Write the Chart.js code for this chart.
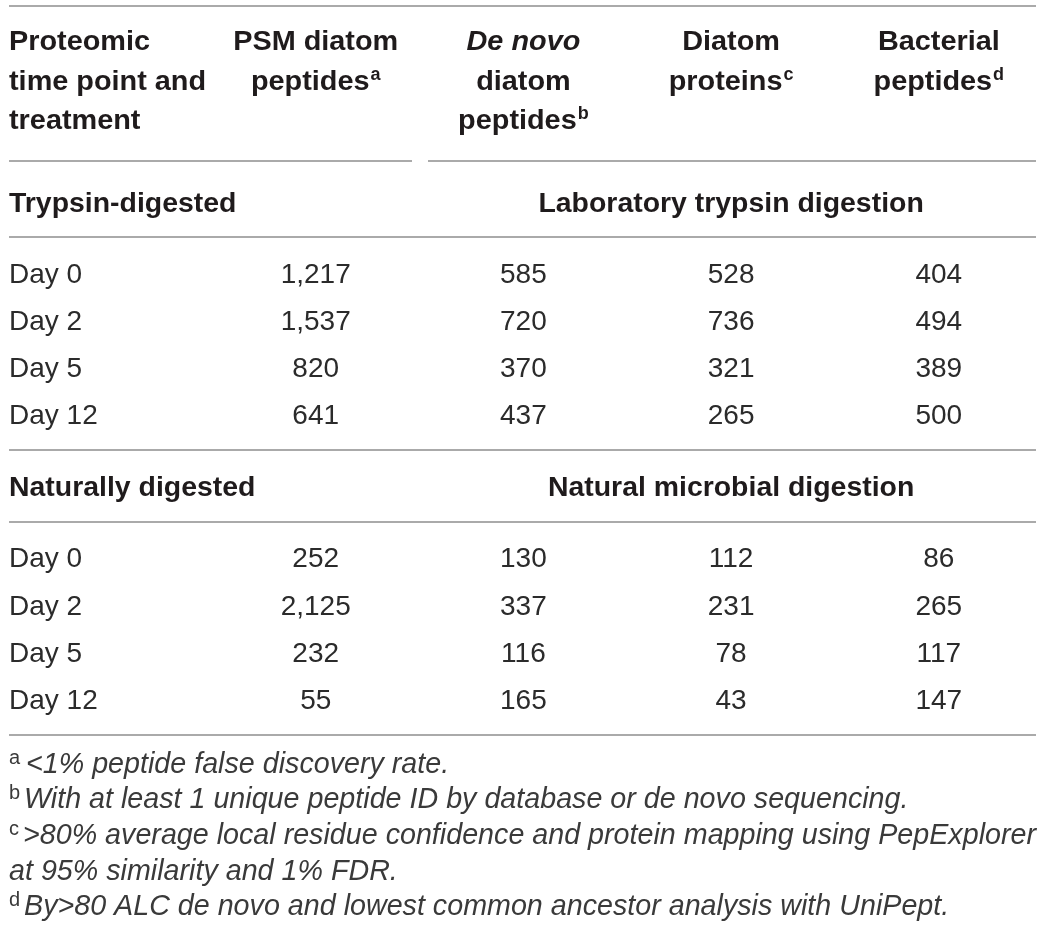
<!DOCTYPE html>
<html>
<head>
<meta charset="utf-8">
<script src="https://cdn.jsdelivr.net/npm/chart.js@4.4.1/dist/chart.umd.min.js"></script>
<style>
  html, body { margin: 0; padding: 0; background: #fff; }
  canvas { display: block; }
</style>
</head>
<body>
<canvas id="tbl" width="1044" height="934"></canvas>
<script>
// ---- table content ----
var timePoints = ['Day 0', 'Day 2', 'Day 5', 'Day 12'];
var trypsinPSM = [1217, 1537, 820, 641];
var trypsinDeNovo = [585, 720, 370, 437];
var trypsinProteins = [528, 736, 321, 265];
var trypsinBacterial = [404, 494, 389, 500];
var naturalPSM = [252, 2125, 232, 55];
var naturalDeNovo = [130, 337, 116, 165];
var naturalProteins = [112, 231, 78, 43];
var naturalBacterial = [86, 265, 117, 147];
var sectionTitles = ['Trypsin-digested', 'Naturally digested'];
var sectionMethods = ['Laboratory trypsin digestion', 'Natural microbial digestion'];
// each header line: [text, superscript, italic]
var headerLines = [
  [['Proteomic'], ['time point and'], ['treatment']],
  [['PSM diatom'], ['peptides', 'a']],
  [['De novo', '', true], ['diatom'], ['peptides', 'b']],
  [['Diatom'], ['proteins', 'c']],
  [['Bacterial'], ['peptides', 'd']]
];
var footnotes = [
  ['a', '<1% peptide false discovery rate.'],
  ['b', 'With at least 1 unique peptide ID by database or de novo sequencing.'],
  ['c', '>80% average local residue confidence and protein mapping using PepExplorer'],
  ['', 'at 95% similarity and 1% FDR.'],
  ['d', 'By>80 ALC de novo and lowest common ancestor analysis with UniPept.']
];

// ---- layout (x in column units, y in page rows) ----
var COL0 = -0.4766, RULE_L = -0.4766, RULE_R = 4.468, GAP_L = 1.4637, GAP_R = 1.5407;
var TOP_RULE = 6, HEAD_Y = [50, 90, 129], HEAD_RULE = 161;
var sections = [
  { title: 212, rule: 237, rows: [283, 330, 377, 424], end: 450,
    cols: [trypsinPSM, trypsinDeNovo, trypsinProteins, trypsinBacterial] },
  { title: 496, rule: 522, rows: [567, 615, 662, 709], end: 735,
    cols: [naturalPSM, naturalDeNovo, naturalProteins, naturalBacterial] }
];
var FOOT_Y = [773, 808, 844, 880, 915];
var FOOT_X = [26, 24, 23, 9, 24];

var FACE = '"Liberation Sans", Arial, Helvetica, sans-serif';
var INK = '#1f1b1c';
var RULE = '#8e8e8e';

// cells as points, so the library places them on its scales
var cells = [];
sections.forEach(function(sec, s) {
  timePoints.forEach(function(tp, r) {
    cells.push({ x: COL0, y: sec.rows[r], text: tp, align: 'left' });
    sec.cols.forEach(function(vals, c) {
      cells.push({ x: c + 1, y: sec.rows[r], text: vals[r].toLocaleString('en-US'), align: 'center' });
    });
  });
});

function drawScaled(ctx, text, x, y, sx) {
  ctx.save();
  ctx.translate(x, y);
  ctx.scale(sx, 1);
  ctx.fillText(text, 0, 0);
  ctx.restore();
}

var tablePlugin = {
  id: 'tablePlugin',
  afterDraw: function(chart) {
    var ctx = chart.ctx, xs = chart.scales.x, ys = chart.scales.y;
    var px = function(v) { return xs.getPixelForValue(v); };
    var py = function(v) { return ys.getPixelForValue(v); };

    ctx.save();
    ctx.fillStyle = '#fff';
    ctx.fillRect(0, 0, chart.width, chart.height);

    // rules
    ctx.strokeStyle = RULE;
    ctx.lineWidth = 1.6;
    function hline(a, b, y) {
      ctx.beginPath();
      ctx.moveTo(px(a), py(y));
      ctx.lineTo(px(b), py(y));
      ctx.stroke();
    }
    hline(RULE_L, RULE_R, TOP_RULE);
    hline(RULE_L, GAP_L, HEAD_RULE);
    hline(GAP_R, RULE_R, HEAD_RULE);
    sections.forEach(function(sec) {
      hline(RULE_L, RULE_R, sec.rule);
      hline(RULE_L, RULE_R, sec.end);
    });

    // header
    ctx.fillStyle = INK;
    ctx.textBaseline = 'alphabetic';
    ctx.textAlign = 'left';
    var hs = 1.03;
    headerLines.forEach(function(lines, c) {
      lines.forEach(function(ln, i) {
        var main = (ln[2] ? 'italic ' : '') + 'bold 28px ' + FACE;
        var supF = 'bold 18px ' + FACE;
        ctx.font = main;
        var w = ctx.measureText(ln[0]).width * hs;
        ctx.font = supF;
        var sw = ln[1] ? ctx.measureText(ln[1]).width + 1 : 0;
        var x0 = c === 0 ? px(COL0) : px(c) - (w + sw) / 2;
        ctx.font = main;
        drawScaled(ctx, ln[0], x0, py(HEAD_Y[i]), hs);
        if (ln[1]) {
          ctx.font = supF;
          ctx.fillText(ln[1], x0 + w + 1, py(HEAD_Y[i]) - 10);
        }
      });
    });

    // section titles
    ctx.font = 'bold 28px ' + FACE;
    sections.forEach(function(sec, s) {
      ctx.textAlign = 'left';
      drawScaled(ctx, sectionTitles[s], px(COL0), py(sec.title), 1.015);
      ctx.textAlign = 'center';
      drawScaled(ctx, sectionMethods[s], px(3), py(sec.title), 1.015);
    });

    // body cells from the dataset elements
    ctx.font = '28px ' + FACE;
    ctx.fillStyle = '#2b2b2b';
    var meta = chart.getDatasetMeta(0);
    meta.data.forEach(function(pt, i) {
      var cell = cells[i];
      ctx.textAlign = cell.align;
      ctx.fillText(cell.text, pt.x, pt.y);
    });

    // footnotes, condensed italic
    ctx.textAlign = 'left';
    var fnFont = 'italic 29px ' + FACE;
    ctx.font = fnFont;
    var sx = (px(RULE_R) - FOOT_X[2]) / ctx.measureText(footnotes[2][1]).width;
    ctx.fillStyle = '#3a3a3a';
    footnotes.forEach(function(fn, i) {
      var y = py(FOOT_Y[i]);
      if (fn[0]) {
        ctx.font = '20px ' + FACE;
        ctx.fillText(fn[0], px(COL0), y - 9);
      }
      ctx.font = fnFont;
      drawScaled(ctx, fn[1], FOOT_X[i], y, sx);
    });
    ctx.restore();
  }
};

new Chart(document.getElementById('tbl'), {
  type: 'scatter',
  data: { datasets: [{ data: cells, pointRadius: 0, pointHoverRadius: 0 }] },
  options: {
    responsive: false,
    animation: false,
    devicePixelRatio: 1,
    events: [],
    layout: { padding: 0 },
    plugins: { legend: { display: false }, tooltip: { enabled: false } },
    scales: {
      x: { type: 'linear', min: -0.52, max: 4.5065, display: false },
      y: { type: 'linear', min: 0, max: 934, reverse: true, display: false }
    }
  },
  plugins: [tablePlugin]
});
</script>
</body>
</html>
